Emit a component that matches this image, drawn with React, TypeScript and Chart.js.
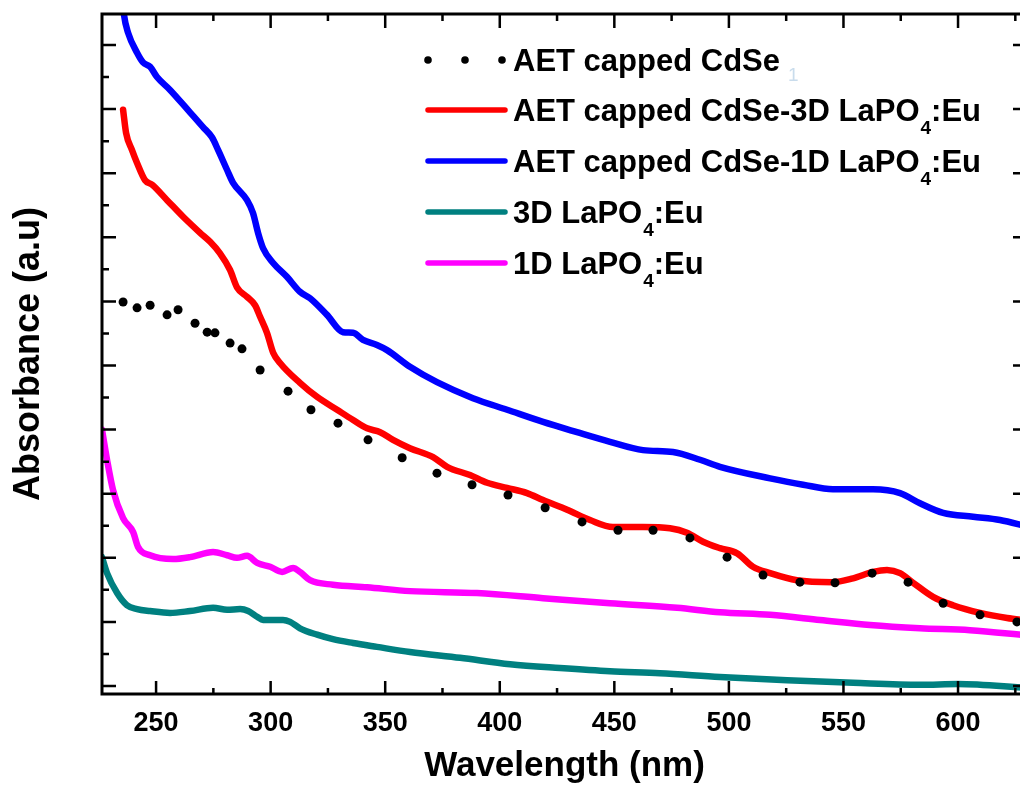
import React, { useEffect, useRef } from "react";
import { Chart, registerables } from "chart.js";

Chart.register(...registerables);

const FONT = "'Liberation Sans', Arial, 'DejaVu Sans', sans-serif";

// axis ranges and tick values
const X_MIN = 226.4;
const X_MAX = 630.1;
const Y_MIN = -0.0125;
const Y_MAX = 1.0484;
const xTickValues = [250, 275, 300, 325, 350, 375, 400, 425, 450, 475, 500, 525, 550, 575, 600, 625];
const yTickValues = [0, 0.05, 0.1, 0.15, 0.2, 0.25, 0.3, 0.35, 0.4, 0.45, 0.5, 0.55, 0.6, 0.65, 0.7, 0.75, 0.8, 0.85, 0.9, 0.95, 1.0];

// series labels
const seriesLabels = [
  "AET capped CdSe",
  "AET capped CdSe-3D LaPO₄:Eu",
  "AET capped CdSe-1D LaPO₄:Eu",
  "3D LaPO₄:Eu",
  "1D LaPO₄:Eu",
];
const seriesColors = ["#000000", "#ff0000", "#0000ff", "#008080", "#ff00ff"];

// AET capped CdSe (dotted)
const cdseX = [235.6, 241.7, 247.4, 254.8, 259.6, 267.0, 272.3, 275.7, 282.3, 287.5, 295.4, 307.6, 317.6, 329.4, 342.5, 357.4, 372.6, 387.9, 403.6, 419.8, 435.9, 451.6, 466.9, 483.0, 499.2, 514.9, 531.0, 546.3, 562.5, 578.2, 593.5, 609.6, 625.7];
const cdseY = [0.599, 0.590, 0.594, 0.579, 0.587, 0.566, 0.552, 0.551, 0.535, 0.526, 0.493, 0.460, 0.431, 0.410, 0.384, 0.356, 0.332, 0.314, 0.298, 0.278, 0.256, 0.243, 0.243, 0.231, 0.201, 0.173, 0.162, 0.161, 0.176, 0.162, 0.129, 0.111, 0.100];

// AET capped CdSe-3D LaPO4:Eu
const red3dX = [235.6, 236.9, 239.5, 241.7, 245.2, 248.3, 254.8, 261.8, 269.2, 273.6, 277.9, 282.3, 285.3, 289.7, 293.2, 295.4, 298.4, 301.1, 304.1, 312.8, 320.3, 329.0, 336.0, 342.1, 347.8, 353.4, 360.8, 370.9, 377.0, 387.0, 394.5, 403.2, 411.9, 418.9, 429.4, 439.4, 449.4, 462.5, 474.3, 481.7, 488.7, 496.1, 503.6, 510.5, 518.0, 529.7, 545.4, 554.2, 562.9, 569.0, 574.7, 580.4, 589.1, 597.8, 609.6, 621.4, 630.0];
const red3dY = [0.899, 0.863, 0.836, 0.816, 0.789, 0.782, 0.758, 0.732, 0.707, 0.693, 0.675, 0.649, 0.622, 0.607, 0.594, 0.576, 0.551, 0.520, 0.504, 0.473, 0.451, 0.431, 0.415, 0.402, 0.396, 0.384, 0.371, 0.357, 0.342, 0.329, 0.317, 0.309, 0.301, 0.290, 0.275, 0.259, 0.248, 0.248, 0.246, 0.239, 0.225, 0.215, 0.207, 0.186, 0.176, 0.165, 0.162, 0.168, 0.178, 0.181, 0.176, 0.161, 0.139, 0.126, 0.114, 0.106, 0.102];

// AET capped CdSe-1D LaPO4:Eu
const blue1dX = [235.4, 236.0, 237.8, 241.7, 244.3, 247.4, 250.4, 256.1, 264.8, 270.5, 274.4, 277.1, 281.0, 283.6, 289.7, 292.3, 294.5, 296.7, 301.1, 307.2, 312.8, 317.2, 324.6, 331.6, 336.0, 340.3, 346.4, 350.8, 360.8, 372.6, 388.3, 403.2, 418.9, 433.7, 448.1, 462.5, 475.6, 487.4, 496.1, 518.0, 532.4, 545.4, 562.9, 574.7, 583.4, 593.5, 606.6, 618.3, 630.0];
const blue1dY = [1.07, 1.047, 1.019, 0.988, 0.973, 0.966, 0.950, 0.930, 0.895, 0.872, 0.856, 0.836, 0.805, 0.785, 0.758, 0.738, 0.707, 0.683, 0.660, 0.638, 0.615, 0.605, 0.579, 0.552, 0.551, 0.540, 0.532, 0.524, 0.498, 0.474, 0.449, 0.431, 0.412, 0.396, 0.381, 0.368, 0.365, 0.353, 0.342, 0.324, 0.314, 0.307, 0.307, 0.301, 0.285, 0.270, 0.264, 0.259, 0.249];

// 3D LaPO4:Eu
const teal3dX = [226.4, 228.6, 233.0, 237.3, 241.7, 247.4, 256.1, 264.8, 274.9, 281.0, 286.7, 290.2, 294.1, 296.7, 305.4, 308.5, 312.8, 320.3, 327.2, 336.0, 346.4, 360.8, 382.7, 404.5, 426.3, 448.1, 469.9, 496.1, 525.4, 554.2, 583.4, 600.0, 630.0];
const teal3dY = [0.201, 0.176, 0.145, 0.126, 0.120, 0.117, 0.114, 0.117, 0.122, 0.119, 0.120, 0.117, 0.108, 0.103, 0.103, 0.100, 0.090, 0.080, 0.073, 0.067, 0.061, 0.053, 0.044, 0.034, 0.028, 0.023, 0.020, 0.014, 0.009, 0.005, 0.002, 0.003, -0.003];

// 1D LaPO4:Eu
const mag1dX = [226.4, 228.6, 231.2, 235.6, 240.0, 242.1, 247.4, 257.4, 264.8, 274.9, 281.0, 285.3, 289.7, 294.1, 299.8, 305.0, 309.8, 312.8, 317.2, 327.2, 342.1, 360.8, 390.1, 418.9, 448.1, 477.4, 496.1, 518.0, 539.8, 561.6, 583.4, 605.2, 630.0];
const mag1dY = [0.400, 0.353, 0.306, 0.262, 0.240, 0.217, 0.204, 0.198, 0.201, 0.209, 0.204, 0.200, 0.203, 0.192, 0.186, 0.178, 0.184, 0.178, 0.165, 0.158, 0.154, 0.148, 0.145, 0.137, 0.129, 0.122, 0.115, 0.111, 0.103, 0.095, 0.090, 0.087, 0.079];

const pts = (xs: number[], ys: number[]) => xs.map((x, i) => ({ x, y: ys[i] }));

const frameAndLegend = {
  id: "frameAndLegend",
  afterDraw(chart: any) {
    const ctx = chart.ctx;
    const { left, right, top, bottom } = chart.chartArea;
    const xs = chart.scales.x;
    const ys = chart.scales.y;
    ctx.save();
    ctx.strokeStyle = "#000";
    ctx.lineCap = "butt";
    // ticks (inward)
    ctx.lineWidth = 2.5;
    for (const t of xs.ticks) {
      const px = xs.getPixelForValue(t.value);
      const major = Math.abs(t.value % 50) < 1e-6;
      const lb = major ? 13 : 6;
      const lt = major ? 14 : 7;
      ctx.beginPath();
      ctx.moveTo(px, bottom);
      ctx.lineTo(px, bottom - lb);
      ctx.moveTo(px, top);
      ctx.lineTo(px, top + lt);
      ctx.stroke();
    }
    for (const t of ys.ticks) {
      const py = ys.getPixelForValue(t.value);
      const major = Math.abs(Math.round(t.value * 100) % 10) < 1e-6;
      const l = major ? 14 : 7;
      ctx.beginPath();
      ctx.moveTo(left, py);
      ctx.lineTo(left + l, py);
      ctx.moveTo(right, py);
      ctx.lineTo(right - l, py);
      ctx.stroke();
    }
    // frame
    ctx.lineWidth = 3;
    ctx.strokeRect(left, top, right - left, bottom - top);

    // legend
    const rowY = [60, 110, 161, 212, 263];
    const x0 = 428;
    const x1 = 505;
    const tx = 513;
    const size = 31;
    const subSize = 19;
    chart.data.datasets.forEach((ds: any, i: number) => {
      const y = rowY[i];
      ctx.fillStyle = ds.borderColor;
      ctx.strokeStyle = ds.borderColor;
      if (i === 0) {
        [428, 465, 502].forEach((dx) => {
          ctx.beginPath();
          ctx.arc(dx, y, 3.8, 0, Math.PI * 2);
          ctx.fill();
        });
      } else {
        ctx.lineWidth = 5.5;
        ctx.lineCap = "round";
        ctx.beginPath();
        ctx.moveTo(x0, y);
        ctx.lineTo(x1, y);
        ctx.stroke();
      }
      ctx.fillStyle = "#000";
      ctx.textBaseline = "alphabetic";
      ctx.textAlign = "left";
      const base = y + 11;
      let cx = tx;
      const parts = String(ds.label).split(/([\u2080-\u2089])/);
      for (const p of parts) {
        if (!p) continue;
        if (/[\u2080-\u2089]/.test(p)) {
          const d = String(p.charCodeAt(0) - 0x2080);
          ctx.font = `bold ${subSize}px ${FONT}`;
          ctx.fillText(d, cx + 1, base + 13);
          cx += ctx.measureText(d).width + 1;
        } else {
          ctx.font = `bold ${size}px ${FONT}`;
          ctx.fillText(p, cx, base);
          cx += ctx.measureText(p).width;
        }
      }
      if (i === 0) {
        ctx.font = `${subSize}px ${FONT}`;
        ctx.fillStyle = "#c9dcec";
        ctx.fillText("1", cx + 8, base + 10);
      }
    });
    ctx.restore();
  },
};

export default function App() {
  const ref = useRef<HTMLCanvasElement | null>(null);
  useEffect(() => {
    if (!ref.current) return;
    const lineDs = (i: number, xs: number[], ys: number[]) => ({
      label: seriesLabels[i],
      data: pts(xs, ys),
      borderColor: seriesColors[i],
      backgroundColor: seriesColors[i],
      borderWidth: 6.5,
      pointRadius: 0,
      cubicInterpolationMode: "monotone" as const,
      borderCapStyle: "round" as const,
      borderJoinStyle: "round" as const,
      fill: false,
    });
    const chart = new Chart(ref.current, {
      type: "line",
      data: {
        datasets: [
          {
            label: seriesLabels[0],
            data: pts(cdseX, cdseY),
            borderColor: seriesColors[0],
            backgroundColor: seriesColors[0],
            showLine: false,
            pointRadius: 4.5,
            pointBorderWidth: 0,
            pointStyle: "circle",
          },
          lineDs(1, red3dX, red3dY),
          lineDs(2, blue1dX, blue1dY),
          lineDs(3, teal3dX, teal3dY),
          lineDs(4, mag1dX, mag1dY),
        ] as any,
      },
      options: {
        responsive: false,
        animation: false,
        events: [],
        layout: { padding: { top: 14, right: 13, left: 0, bottom: 0 } },
        plugins: { legend: { display: false }, tooltip: { enabled: false } },
        scales: {
          x: {
            type: "linear",
            min: X_MIN,
            max: X_MAX,
            afterBuildTicks: (s: any) => {
              s.ticks = xTickValues.map((v) => ({ value: v }));
            },
            afterFit: (s: any) => {
              s.height = 107;
            },
            grid: { display: false, drawTicks: false },
            border: { display: false },
            ticks: {
              autoSkip: false,
              maxRotation: 0,
              minRotation: 0,
              padding: 13,
              color: "#000",
              font: { family: FONT, size: 27, weight: "bold" },
              callback: (v: any) => (Number(v) % 50 === 0 ? String(v) : ""),
            },
            title: {
              display: true,
              text: "Wavelength (nm)",
              color: "#000",
              font: { family: FONT, size: 35, weight: "bold" },
              padding: { top: 0, bottom: 14 },
            },
          },
          y: {
            type: "linear",
            min: Y_MIN,
            max: Y_MAX,
            afterBuildTicks: (s: any) => {
              s.ticks = yTickValues.map((v) => ({ value: v }));
            },
            afterFit: (s: any) => {
              s.width = 102;
            },
            grid: { display: false, drawTicks: false },
            border: { display: false },
            ticks: { display: false },
            title: {
              display: true,
              text: "Absorbance (a.u)",
              color: "#000",
              font: { family: FONT, size: 36, weight: "bold" },
              padding: { top: 7, bottom: 0 },
            },
          },
        },
      } as any,
      plugins: [frameAndLegend],
    });
    return () => chart.destroy();
  }, []);
  return (
    <div style={{ position: "fixed", left: 0, top: 0, width: 1040, height: 801, background: "#fff" }}>
      <canvas ref={ref} width={1040} height={801} style={{ display: "block", width: 1040, height: 801 }} />
    </div>
  );
}
